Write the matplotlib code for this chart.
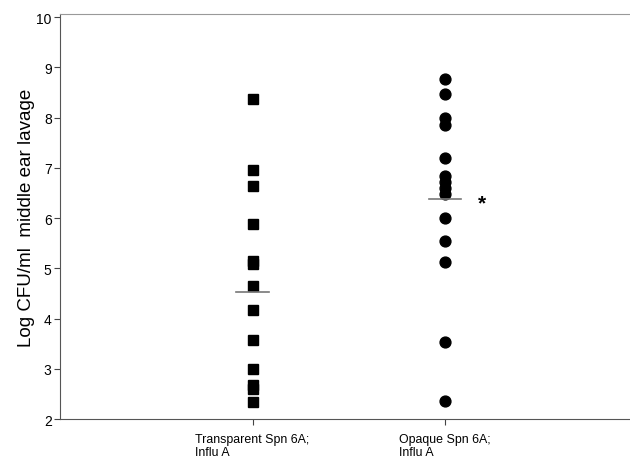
import matplotlib
matplotlib.use('Agg')
import matplotlib.pyplot as plt

plt.rcParams['font.family'] = ['Liberation Sans', 'DejaVu Sans']

# data (log CFU/ml)
groups = ['Transparent Spn 6A;\nInflu A', 'Opaque Spn 6A;\nInflu A']
transparent = [8.37, 6.95, 6.63, 5.88, 5.15, 5.08, 4.65, 4.17, 3.58, 3.0, 2.68, 2.60, 2.33]
opaque = [8.76, 8.47, 7.99, 7.86, 7.19, 6.83, 6.72, 6.60, 6.47, 6.0, 5.54, 5.12, 3.53, 2.36]
group_lines = [4.52, 6.37]

fig = plt.figure(figsize=(6.3, 4.64), dpi=100)
ax = fig.add_axes([0.0952, 0.0948, 0.9048, 0.8729])

ax.plot([1] * len(transparent), transparent, 's', color='black', markersize=6.5, linestyle='none')
ax.plot([2] * len(opaque), opaque, 'o', color='black', markersize=7.8, linestyle='none')

# horizontal lines for each group
for i, v in enumerate(group_lines):
    ax.plot([i + 1 - 0.085, i + 1 + 0.085], [v, v], color='#777777', linewidth=1.2)

ax.text(2.19, 6.31, '*', fontsize=15, ha='center', va='center', fontweight='bold')

ax.set_xlim(0, 2.96)
ax.set_ylim(2, 10.06)
ax.set_yticks(range(2, 11))
ax.set_xticks([1, 2])
ax.set_xticklabels(groups, ha='center', multialignment='left', fontsize=8.9,
                   linespacing=1.1)

ax.tick_params(axis='y', direction='out', length=4, labelsize=10, pad=2, color='#444444')
ax.tick_params(axis='x', direction='out', length=4, pad=6, color='#444444')

ax.set_ylabel('Log CFU/ml  middle ear lavage', fontsize=13.5, labelpad=1)

ax.spines['right'].set_visible(False)
ax.spines['top'].set_color('#999999')
ax.spines['left'].set_color('#555555')
ax.spines['bottom'].set_color('#555555')

plt.savefig('out.png', dpi=100)
